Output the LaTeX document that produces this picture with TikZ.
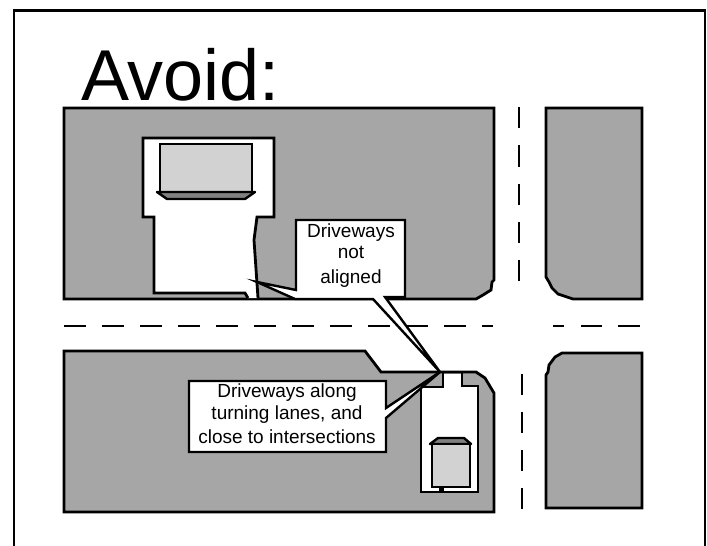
\documentclass[tikz,border=0pt]{standalone}
\usepackage{fontspec}
\setmainfont{Liberation Sans}
\definecolor{lotgray}{HTML}{A6A6A6}
\definecolor{bldg}{HTML}{D2D2D2}
\definecolor{roof}{HTML}{808080}
\tikzset{
  block/.style={draw=black,fill=lotgray,line width=2.8pt,line join=miter},
  lot/.style={draw=black,fill=white,line width=2.8pt,line join=miter},
  building/.style={draw=black,fill=bldg,line width=2.8pt},
  roofpart/.style={draw=black,fill=roof,line width=2.4pt,line join=round},
  callout/.style={draw=black,fill=white,line width=2.4pt,line join=miter},
  lane/.style={draw=black,line width=2.6pt},
  calltext/.style={font=\fontsize{19}{19}\selectfont,inner sep=0pt,anchor=base,text=black}
}
\begin{document}
\begin{tikzpicture}[x=1pt,y=-1pt]
\useasboundingbox (0,0) rectangle (707,546);
\fill[white] (0,0) rectangle (707,546);
% frame
\draw[black,line width=2.4pt] (14,546) -- (14,10.5) -- (705,10.5) -- (705,546);
% title
\node[font=\fontsize{72}{72}\selectfont,inner sep=0pt,anchor=base west] (title) at (81,100) {Avoid:};
% blocks
\draw[block] (64,108) -- (494,108) -- (494,280) -- (492,282) -- (491,290) -- (483,295) -- (476,299) -- (64,299) -- cycle;
\draw[block] (546,108) -- (642,108) -- (642,299) -- (573,299) -- (558,294) -- (552,288) -- (549,282) -- (546,277) -- cycle;
\draw[block] (64,351) -- (365,351) -- (381,372) -- (476,372) -- (485,378) -- (494,393) -- (494,512) -- (64,512) -- cycle;
\draw[block] (562,353) -- (642,353) -- (642,508) -- (546,508) -- (546,375) -- (548,372) -- (549,365) -- (555,357) -- cycle;
% upper lot
\fill[white] (143,138) -- (274,138) -- (274,217) -- (257,217) -- (254,240) -- (258,298) -- (247,298) -- (245,293) -- (154,293) -- (154,217) -- (143,217) -- cycle;
\draw[black,line width=2.8pt,line join=miter] (248,298) -- (245,293) -- (154,293) -- (154,217) -- (143,217) -- (143,138) -- (274,138) -- (274,217) -- (257,217) -- (254,240) -- (258,298);
% upper building
\draw[building] (160,144) rectangle (252,192);
\draw[roofpart] (157,192) -- (255,192) -- (245,199) -- (167,199) -- cycle;
% lower lot
\fill[white] (421,387) -- (443,387) -- (443,374) -- (462,374) -- (462,386) -- (478,386) -- (478,492) -- (421,492) -- cycle;
\draw[black,line width=2.8pt,line join=miter] (443,373) -- (443,387) -- (421,387) -- (421,492) -- (478,492) -- (478,386) -- (462,386) -- (462,373);
% lower building
\fill[black] (439,487) rectangle (444,492);
\draw[roofpart] (430,444) -- (438,438) -- (464,438) -- (471,444) -- cycle;
\draw[building] (432,444) rectangle (470,487);
% lanes
\foreach \a/\b in {64/86,102/124,140/162,178/200,216/238,254/276,292/314,330/352,368/390,406/428,444/466,482/493,553/564,581/602,618/640}
  \draw[lane] (\a,326) -- (\b,326);
\foreach \a/\b in {107/128,145/167,184/205,222/243,260/281}
  \draw[lane] (519,\a) -- (519,\b);
\foreach \a/\b in {374/395,412/433,450/471,488/509}
  \draw[lane] (522,\a) -- (522,\b);
% callouts
\draw[callout] (296,220) -- (405,220) -- (405,297) -- (385,297) -- (440,372) -- (373,299) -- (295,299) -- (257,282) -- (296,290) -- cycle;
\draw[callout] (189,381) -- (386,381) -- (386,408) -- (440,372) -- (386,418) -- (386,452) -- (189,452) -- cycle;
% callout texts
\node[calltext] (t1) at (351,237) {Driveways};
\node[calltext] (t2) at (351,258) {not};
\node[calltext] (t3) at (351,283) {aligned};
\node[calltext] (t4) at (287,397) {Driveways along};
\node[calltext] (t5) at (287,419) {turning lanes, and};
\node[calltext] (t6) at (287,443) {close to intersections};
\end{tikzpicture}
\end{document}
